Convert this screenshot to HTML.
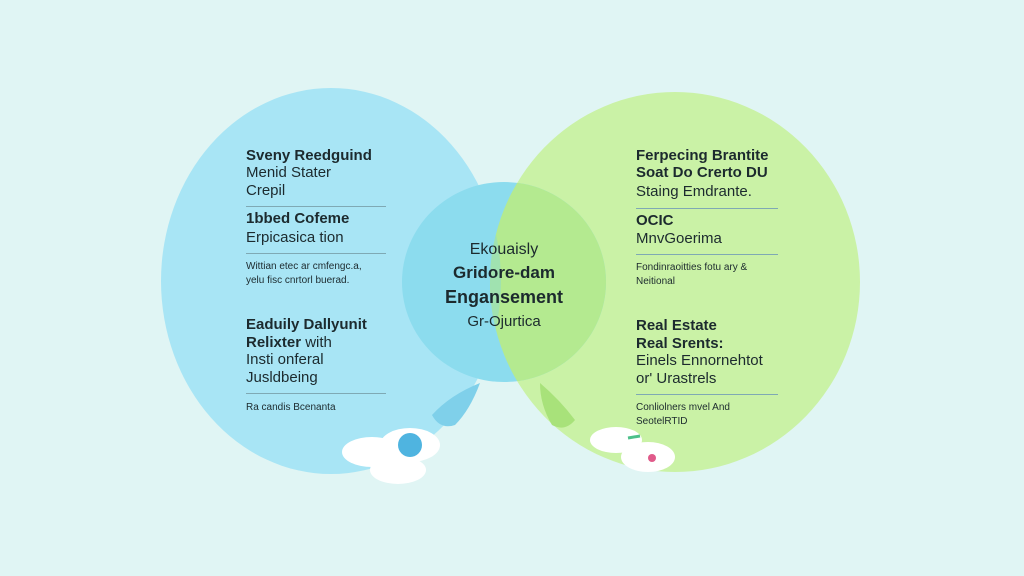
<!DOCTYPE html>
<html><head><meta charset="utf-8"><style>
html,body{margin:0;padding:0}
body{width:1024px;height:576px;background:#e0f5f4;position:relative;overflow:hidden;font-family:"Liberation Sans",sans-serif;color:#1c2a2e}
.t{position:absolute;white-space:nowrap}
.b{font-weight:bold}
.hr{position:absolute;height:1px;background:#7fa9b4}
</style></head><body>
<svg width="1024" height="576" style="position:absolute;left:0;top:0">
<defs>
<clipPath id="cl"><ellipse cx="331" cy="281" rx="170" ry="193"/></clipPath>
<clipPath id="cr"><ellipse cx="675" cy="282" rx="185" ry="190"/></clipPath>
</defs>
<ellipse cx="331" cy="281" rx="170" ry="193" fill="#a8e5f5"/>
<ellipse cx="675" cy="282" rx="185" ry="190" fill="#caf2a6"/>
<ellipse cx="675" cy="282" rx="185" ry="190" fill="#b4ecb4" clip-path="url(#cl)"/>
<ellipse cx="504" cy="282" rx="102" ry="100" fill="#8cdcee"/>
<g clip-path="url(#cr)"><ellipse cx="504" cy="282" rx="102" ry="100" fill="#b4ea90"/></g>
<g clip-path="url(#cl)"><g clip-path="url(#cr)"><ellipse cx="504" cy="282" rx="102" ry="100" fill="#a0e2b0"/></g></g>
<path d="M480 383 Q450 395 432 415 Q440 430 455 425 Q470 410 480 383Z" fill="#7fd0ea"/>
<path d="M540 383 Q560 400 575 420 Q565 432 552 425 Q540 405 540 383Z" fill="#a8e27a"/>
<ellipse cx="372" cy="452" rx="30" ry="15" fill="#fff"/>
<ellipse cx="410" cy="445" rx="30" ry="17" fill="#fff"/>
<ellipse cx="398" cy="470" rx="28" ry="14" fill="#fff"/>
<circle cx="410" cy="445" r="12" fill="#4fb4e0"/>
<ellipse cx="616" cy="440" rx="26" ry="13" fill="#fff"/>
<ellipse cx="648" cy="457" rx="27" ry="15" fill="#fff"/>
<line x1="628" y1="438" x2="640" y2="436" stroke="#4cc08a" stroke-width="3"/>
<circle cx="652" cy="458" r="4" fill="#e05a8a"/>
</svg>
<div class="t b" style="left:246px;top:147px;font-size:15px">Sveny Reedguind</div>
<div class="t" style="left:246px;top:164px;font-size:15px">Menid Stater</div>
<div class="t" style="left:246px;top:182px;font-size:15px">Crepil</div>
<div class="hr" style="left:246px;top:206px;width:140px"></div>
<div class="t b" style="left:246px;top:210px;font-size:15px">1bbed Cofeme</div>
<div class="t" style="left:246px;top:229px;font-size:15px">Erpicasica tion</div>
<div class="hr" style="left:246px;top:253px;width:140px"></div>
<div class="t" style="left:246px;top:260px;font-size:10px;line-height:14px">Wittian etec ar cmfengc.a,<br>yelu fisc cnrtorl buerad.</div>
<div class="t b" style="left:246px;top:316px;font-size:15px;line-height:18px">Eaduily Dallyunit<br>Relixter <span style="font-weight:normal">with</span></div>
<div class="t" style="left:246px;top:351px;font-size:15px;line-height:18px">Insti onferal<br>Jusldbeing</div>
<div class="hr" style="left:246px;top:393px;width:140px"></div>
<div class="t" style="left:246px;top:402px;font-size:10px">Ra candis Bcenanta</div>

<div class="t b" style="left:636px;top:147px;font-size:15px;line-height:17px">Ferpecing Brantite<br>Soat Do Crerto DU</div>
<div class="t" style="left:636px;top:183px;font-size:15px">Staing Emdrante.</div>
<div class="hr" style="left:636px;top:208px;width:142px"></div>
<div class="t b" style="left:636px;top:212px;font-size:15px">OCIC</div>
<div class="t" style="left:636px;top:230px;font-size:15px">MnvGoerima</div>
<div class="hr" style="left:636px;top:254px;width:142px"></div>
<div class="t" style="left:636px;top:261px;font-size:10px;line-height:14px">Fondinraoitties fotu ary &amp;<br>Neitional</div>
<div class="t b" style="left:636px;top:317px;font-size:15px;line-height:18px">Real Estate<br>Real Srents:</div>
<div class="t" style="left:636px;top:352px;font-size:15px;line-height:18px">Einels Ennornehtot<br>or' Urastrels</div>
<div class="hr" style="left:636px;top:394px;width:142px"></div>
<div class="t" style="left:636px;top:401px;font-size:10px;line-height:14px">Conliolners mvel And<br>SeotelRTID</div>

<div class="t" style="left:404px;top:241px;width:200px;text-align:center;font-size:16px">Ekouaisly</div>
<div class="t b" style="left:404px;top:263px;width:200px;text-align:center;font-size:17px">Gridore-dam</div>
<div class="t b" style="left:404px;top:287px;width:200px;text-align:center;font-size:18px">Engansement</div>
<div class="t" style="left:404px;top:313px;width:200px;text-align:center;font-size:15px">Gr-Ojurtica</div>
</body></html>
